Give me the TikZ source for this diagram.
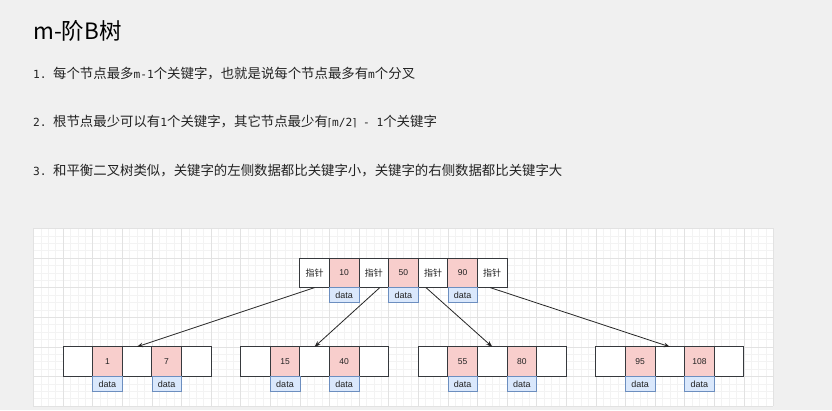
\documentclass[tikz,border=0pt]{standalone}
\usepackage{fontspec}
\setmainfont{Liberation Sans}
\newfontfamily\cjk{Noto Sans CJK SC}
\newfontfamily\monolat{DejaVu Sans Mono}
\newfontfamily\symfam{DejaVu Sans}
\usetikzlibrary{arrows.meta}

\definecolor{pagebg}{HTML}{F0F0F0}
\definecolor{gridminor}{HTML}{F3F3F3}
\definecolor{gridmajor}{HTML}{E2E2E2}
\definecolor{keyfill}{HTML}{F8CECC}
\definecolor{cellline}{HTML}{36393D}
\definecolor{datafill}{HTML}{DAE8FC}
\definecolor{dataline}{HTML}{6C8EBF}
\definecolor{inktext}{HTML}{222222}

% Latin runs inside the Chinese lines
\newcommand{\lat}[1]{{\monolat\fontsize{11.2}{13}\selectfont #1}}
\newcommand{\ceilbr}[1]{{\symfam\fontsize{10.5}{12}\selectfont #1}}

\tikzset{
  cellbox/.style={draw=cellline, line width=0.9pt, fill=white,
    minimum width=29.6pt, minimum height=29.6pt, inner sep=0pt,
    outer sep=0pt, anchor=north west, text=inktext},
  keybox/.style={cellbox, fill=keyfill, font=\fontsize{8.5}{9}\selectfont},
  ptrbox/.style={cellbox, font=\cjk\fontsize{9}{10}\selectfont},
  databox/.style={draw=dataline, line width=0.6pt, fill=datafill,
    minimum width=29.6pt, minimum height=14.8pt, inner sep=0pt,
    outer sep=0pt, anchor=north west, text=inktext,
    font=\fontsize{9}{10}\selectfont},
  link/.style={draw=black!85, line width=0.8pt,
    -{Stealth[length=6pt,width=4.5pt]}},
  bodyline/.style={anchor=base west, text=inktext,
    font=\cjk\fontsize{13.4}{15}\selectfont, inner sep=0pt}
}

\begin{document}
\begin{tikzpicture}[x=1pt,y=-1pt]
  % page
  \fill[pagebg] (0,0) rectangle (832,410);
  \useasboundingbox (0,0) rectangle (832,410);

  % heading and rules
  \node[anchor=base west, inner sep=0pt, text=black,
        font=\cjk\fontsize{22.5}{24}\selectfont] (title) at (33,39) {m-阶B树};
  \node[bodyline] (rule1) at (33,78)
    {\makebox[20pt][l]{\lat{1.}}每个节点最多\lat{m-1}个关键字，也就是说每个节点最多有\lat{m}个分叉};
  \node[bodyline] (rule2) at (33,126)
    {\makebox[20pt][l]{\lat{2.}}根节点最少可以有\lat{1}个关键字，其它节点最少有\lat{\ceilbr{⌈}m/2\ceilbr{⌉} - 1}个关键字};
  \node[bodyline] (rule3) at (33,175)
    {\makebox[20pt][l]{\lat{3.}}和平衡二叉树类似，关键字的左侧数据都比关键字小，关键字的右侧数据都比关键字大};

  % canvas with grid
  \fill[white] (33.4,228.4) rectangle (773.4,406);
  \foreach \i in {0,...,100}
    \draw[gridminor, line width=0.4pt] ({33.4+\i*7.4},228.4) -- ({33.4+\i*7.4},406);
  \foreach \i in {0,...,24}
    \draw[gridminor, line width=0.4pt] (33.4,{228.4+\i*7.4}) -- (773.4,{228.4+\i*7.4});
  \foreach \i in {0,...,25}
    \draw[gridmajor, line width=0.4pt] ({33.4+\i*29.6},228.4) -- ({33.4+\i*29.6},406);
  \foreach \i in {0,...,6}
    \draw[gridmajor, line width=0.4pt] (33.4,{228.4+\i*29.6}) -- (773.4,{228.4+\i*29.6});

  % root node: pointer / key cells alternate
  \node[ptrbox] (r0) at ({33.4+9*29.6},{228.4+29.6}) {指针};
  \node[keybox] (r1) at ({33.4+10*29.6},{228.4+29.6}) {10};
  \node[ptrbox] (r2) at ({33.4+11*29.6},{228.4+29.6}) {指针};
  \node[keybox] (r3) at ({33.4+12*29.6},{228.4+29.6}) {50};
  \node[ptrbox] (r4) at ({33.4+13*29.6},{228.4+29.6}) {指针};
  \node[keybox] (r5) at ({33.4+14*29.6},{228.4+29.6}) {90};
  \node[ptrbox] (r6) at ({33.4+15*29.6},{228.4+29.6}) {指针};
  \node[databox] (rd1) at (r1.south west) {data};
  \node[databox] (rd3) at (r3.south west) {data};
  \node[databox] (rd5) at (r5.south west) {data};

  % leaf nodes
  \foreach \n/\s/\ka/\kb in {1/1/1/7, 2/7/15/40, 3/13/55/80, 4/19/95/108} {
    \node[cellbox] (c\n a) at ({33.4+\s*29.6},{228.4+4*29.6}) {};
    \node[keybox]  (c\n b) at ({33.4+(\s+1)*29.6},{228.4+4*29.6}) {\ka};
    \node[cellbox] (c\n c) at ({33.4+(\s+2)*29.6},{228.4+4*29.6}) {};
    \node[keybox]  (c\n d) at ({33.4+(\s+3)*29.6},{228.4+4*29.6}) {\kb};
    \node[cellbox] (c\n e) at ({33.4+(\s+4)*29.6},{228.4+4*29.6}) {};
    \node[databox] (c\n bd) at (c\n b.south west) {data};
    \node[databox] (c\n dd) at (c\n d.south west) {data};
  }

  % child links
  \draw[link] (r0.south) -- (c1c.north);
  \draw[link] ([xshift=6pt]r2.south) -- (c2c.north);
  \draw[link] ([xshift=-7pt]r4.south) -- (c3c.north);
  \draw[link] ([xshift=-2pt]r6.south) -- (c4c.north);
\end{tikzpicture}
\end{document}
